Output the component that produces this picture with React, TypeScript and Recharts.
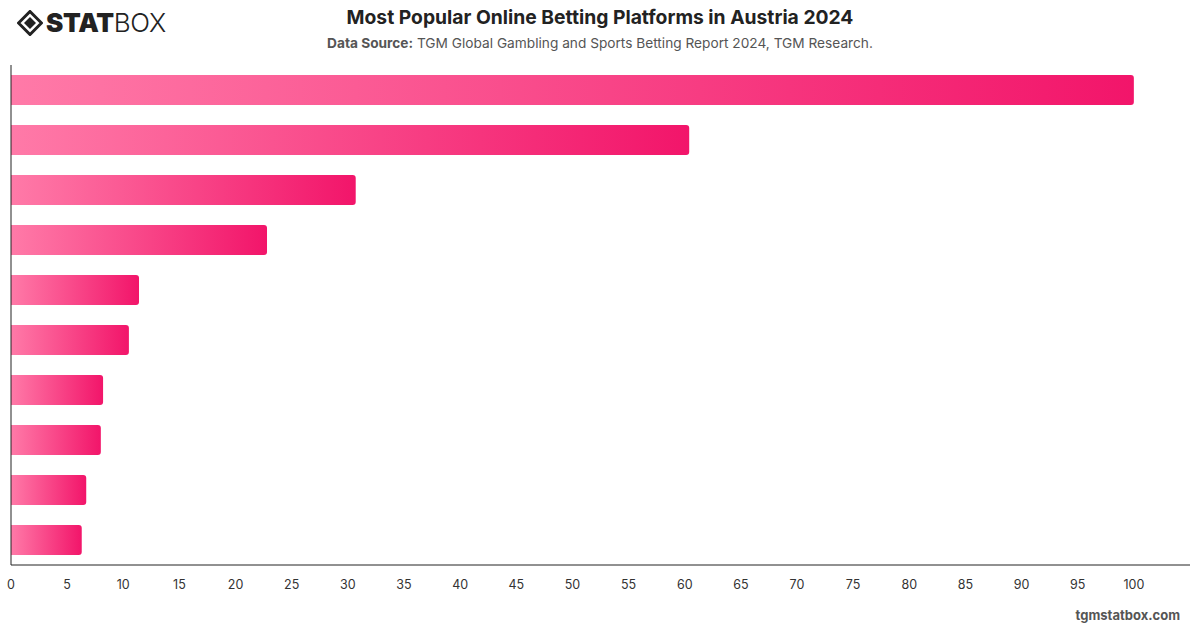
import React from 'react';
import { BarChart, Bar, XAxis, YAxis } from 'recharts';

// platform ranks (names are not shown on the chart)
const platforms = ['1', '2', '3', '4', '5', '6', '7', '8', '9', '10'];
const shares = [100, 60.4, 30.7, 22.8, 11.4, 10.5, 8.2, 8.0, 6.7, 6.3];
const xTicks = [0, 5, 10, 15, 20, 25, 30, 35, 40, 45, 50, 55, 60, 65, 70, 75, 80, 85, 90, 95, 100];

const data = platforms.map((name, i) => ({ name, value: shares[i] }));

const font = 'Inter, "Noto Sans", Arial, sans-serif';

const Logo = () => (
    <div style={{ position: 'absolute', left: 17, top: 7, display: 'flex', alignItems: 'center', fontFamily: font }}>
        <svg width="26" height="26" viewBox="0 0 26 26">
            <path d="M13 1.5 L24.5 13 L13 24.5 L1.5 13 Z" fill="none" stroke="#222" strokeWidth="3" />
            <path d="M13 7 L19 13 L13 19 L7 13 Z" fill="#222" />
        </svg>
        <span style={{ fontSize: 26, fontWeight: 900, color: '#222', marginLeft: 3, letterSpacing: -0.3 }}>STAT</span>
        <span style={{ fontSize: 26, fontWeight: 300, color: '#222', letterSpacing: -0.3 }}>BOX</span>
    </div>
);

export default function App() {
    return (
        <div style={{ position: 'fixed', left: 0, top: 0, width: 1200, height: 628, background: '#fff', fontFamily: font }}>
            <Logo />
            <div style={{ position: 'absolute', top: 5, width: 1200, textAlign: 'center', fontSize: 19.3, fontWeight: 700, color: '#222' }}>
                Most Popular Online Betting Platforms in Austria 2024
            </div>
            <div style={{ position: 'absolute', top: 35, width: 1200, textAlign: 'center', fontSize: 13.7, color: '#555' }}>
                <b>Data Source:</b> TGM Global Gambling and Sports Betting Report 2024, TGM Research.
            </div>
            <div style={{ position: 'absolute', right: 20, top: 607, fontSize: 13, fontWeight: 700, color: '#555' }}>
                tgmstatbox.com
            </div>
            <div style={{ position: 'absolute', left: 0, top: 0 }}>
                <BarChart
                    width={1200}
                    height={628}
                    data={data}
                    layout="vertical"
                    margin={{ top: 65, right: 10, bottom: 33, left: 10 }}
                    barCategoryGap="20%"
                >
                    <defs>
                        <linearGradient id="barGrad" x1="0" y1="0" x2="1" y2="0">
                            <stop offset="0%" stopColor="#FF7AA8" />
                            <stop offset="100%" stopColor="#F2156A" />
                        </linearGradient>
                    </defs>
                    <XAxis
                        type="number"
                        domain={[0, 105]}
                        ticks={xTicks}
                        height={30}
                        tickLine={false}
                        axisLine={{ stroke: '#222' }}
                        tickMargin={9}
                        tick={{ fontSize: 12.5, fill: '#333', fontFamily: font }}
                        interval={0}
                    />
                    <YAxis type="category" dataKey="name" width={1} tick={false} tickLine={false} axisLine={{ stroke: '#222' }} />
                    <Bar dataKey="value" fill="url(#barGrad)" radius={[0, 3, 3, 0]} isAnimationActive={false} />
                </BarChart>
            </div>
        </div>
    );
}
